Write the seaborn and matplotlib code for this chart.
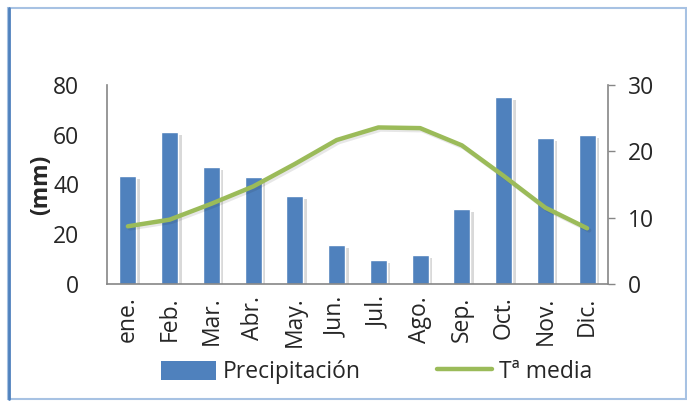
import numpy as np
import pandas as pd
import matplotlib
matplotlib.use("Agg")
import matplotlib.pyplot as plt
import matplotlib.patheffects as pe
from matplotlib.patches import Rectangle
from matplotlib.lines import Line2D
import seaborn as sns

# Data
months = ["ene.", "Feb.", "Mar.", "Abr.", "May.", "Jun.", "Jul.", "Ago.", "Sep.", "Oct.", "Nov.", "Dic."]
precip = [43.5, 61, 47, 43, 35.2, 15.5, 9.7, 11.6, 30.2, 75, 58.7, 60]
temp = [8.7, 9.7, 12.1, 14.7, 18.1, 21.7, 23.6, 23.5, 20.9, 16.3, 11.5, 8.4]

sns.set_theme(style="white")
plt.rcParams["font.family"] = ["Open Sans", "DejaVu Sans"]

bar_color = "#4F81BD"
line_color = "#9BBB59"
axis_gray = "#868686"
fs = 16.5

df = pd.DataFrame({"mes": months, "precip": precip, "temp": temp})

fig = plt.figure(figsize=(6.87, 4.01), dpi=100)
ax = fig.add_axes([107 / 687, 1 - 284 / 401, 501 / 687, 199 / 401])

sns.barplot(data=df, x="mes", y="precip", color=bar_color, width=0.41,
            saturation=1, ax=ax)
for p in ax.patches:
    p.set_path_effects([pe.SimplePatchShadow(offset=(2.5, -2), shadow_rgbFace="#444444", alpha=0.2),
                        pe.Normal()])

ax.set_ylim(0, 80)
ax.set_yticks([0, 20, 40, 60, 80])
ax.set_xlim(-0.5, 11.5)
ax.set_xlabel("")
ax.set_ylabel("(mm)", fontsize=fs, fontweight="bold", labelpad=0)
ax.tick_params(axis="y", labelsize=fs, length=0, pad=20)
ax.tick_params(axis="x", labelsize=fs, length=0, rotation=90, pad=9)

ax2 = ax.twinx()
sns.lineplot(x=np.arange(len(months)), y=temp, color=line_color, linewidth=3.2,
             ax=ax2, legend=False)
ax2.lines[0].set_path_effects([pe.SimpleLineShadow(offset=(1.5, -1.5), alpha=0.1), pe.Normal()])
ax2.set_ylim(0, 30)
ax2.set_yticks([0, 10, 20, 30])
ax2.tick_params(axis="y", labelsize=fs, length=5, width=1, color=axis_gray, pad=9,
                direction="out", right=True)
ax2.set_ylabel("")

for a in (ax, ax2):
    a.spines["top"].set_visible(False)
    for s in ("left", "bottom", "right"):
        a.spines[s].set_color(axis_gray)
        a.spines[s].set_linewidth(1.2)
ax.spines["right"].set_visible(False)
ax2.spines["left"].set_visible(False)
ax2.spines["bottom"].set_visible(False)

handles = [Rectangle((0, 0), 1, 1, facecolor=bar_color, edgecolor="none"),
           Line2D([0], [0], color=line_color, linewidth=3.2)]
fig.legend(handles, ["Precipitación", "Tª media"], loc="center",
           bbox_to_anchor=(0.548, 1 - 372 / 401), ncol=2, frameon=False,
           fontsize=fs, handlelength=2.4, handleheight=0.9, handletextpad=0.3,
           columnspacing=3.3)

# chart frame
fig.patches.append(Rectangle((8 / 687, 2 / 401), 678 / 687, 391 / 401,
                             transform=fig.transFigure, fill=False,
                             edgecolor="#A7C2E3", linewidth=1.5))
fig.add_artist(Line2D([8.5 / 687, 8.5 / 687], [2 / 401, 393 / 401],
                      transform=fig.transFigure, color=bar_color, linewidth=2))

fig.savefig("out.png", dpi=100)
